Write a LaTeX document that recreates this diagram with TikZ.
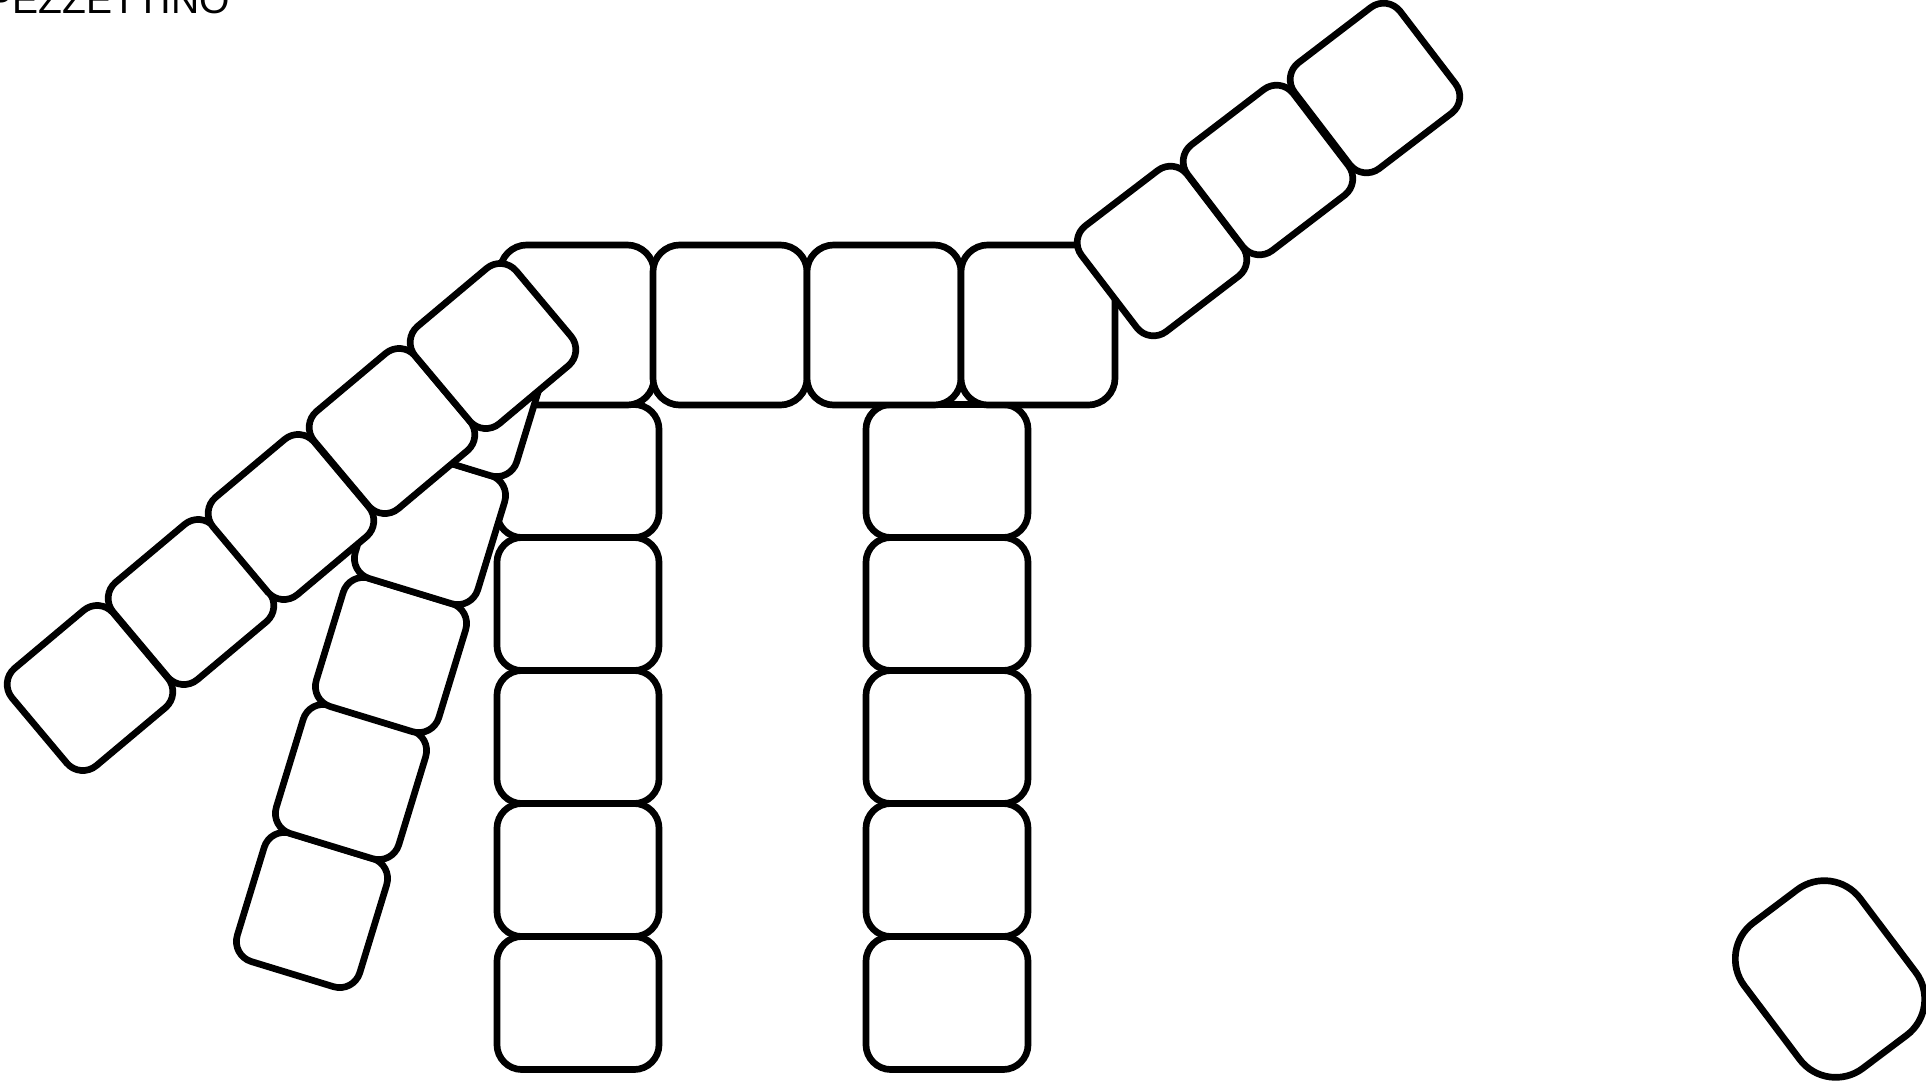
\documentclass[tikz,border=0pt]{standalone}
\usepackage{fontspec}
\newfontfamily\titlefont{Liberation Sans}
\usepackage{tikz}
\usetikzlibrary{positioning}

\begin{document}
\begin{tikzpicture}[x=0.01cm,y=-0.01cm,
  piece/.style={draw,fill=white,line width=1.9pt,inner sep=0pt,rounded corners=0.21cm,
    minimum width=1.33cm,minimum height=1.33cm},
  toppiece/.style={piece,rounded corners=0.27cm,minimum width=1.54cm,minimum height=1.6cm},
  colpiece/.style={piece,rounded corners=0.25cm,minimum width=1.62cm,minimum height=1.33cm}]
\useasboundingbox (0,0) rectangle (1926,1081);
\node[font=\titlefont\fontsize{11.1}{13}\selectfont,anchor=base west,inner sep=0pt] (title) at (-14,13) {PEZZETTINO};
% legs
\foreach \y [count=\i] in {471,604,737,870,1003}{
  \node[colpiece] (left\i) at (578,\y) {};
  \node[colpiece] (right\i) at (947,\y) {};
}
% body
\foreach \x [count=\i] in {577,730,884,1038}
  \node[toppiece] (top\i) at (\x,325) {};
% steep arm
\foreach \x/\y/\i in {312/910/5,351/782/4,391/655/3,430/527/2,469/399/1}
  \node[piece,rotate=-17,minimum width=1.28cm,minimum height=1.34cm] (steep\i) at (\x,\y) {};
% long arm
\foreach \x/\y/\i in {90/688/5,191/602/4,291/517/3,392/431/2,493/346/1}
  \node[piece,rotate=40,minimum width=1.32cm,minimum height=1.27cm] (long\i) at (\x,\y) {};
% raised arm
\foreach \x/\y [count=\i] in {1162/251,1268/170,1375/88}
  \node[piece,rotate=37.4,minimum width=1.33cm,minimum height=1.33cm] (raised\i) at (\x,\y) {};
% loose piece
\node[piece,rotate=37,rounded corners=0.45cm,minimum width=1.45cm,minimum height=1.82cm] (loose) at (1830,979) {};
\end{tikzpicture}
\end{document}
